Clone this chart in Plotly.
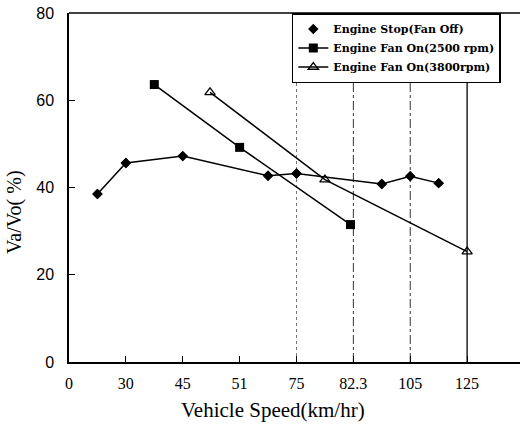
import plotly.graph_objects as go

# Tick labels of the (equally spaced) speed axis
speed_labels = ["0", "30", "45", "51", "75", "82.3", "105", "125"]
speed_pos = list(range(len(speed_labels)))

# Series (x in axis-slot units, y in %)
stop_x = [0.5, 1, 2, 3.5, 4, 5.5, 6, 6.5]
stop_y = [38.5, 45.6, 47.2, 42.7, 43.2, 40.8, 42.6, 41.0]

fan2500_x = [1.5, 3, 4.95]
fan2500_y = [63.6, 49.2, 31.5]

fan3800_x = [2.48, 4.5, 7]
fan3800_y = [61.8, 41.8, 25.3]

names = ["Engine Stop(Fan Off)", "Engine Fan On(2500 rpm)", "Engine Fan On(3800rpm)"]

# vertical reference lines at these speed labels
vline_labels = ["75", "82.3", "105", "125"]
vline_dash = ["dot", "dashdot", "dashdot", "solid"]
vline_color = ["#777777", "#333333", "#333333", "black"]

fig = go.Figure()

fig.add_trace(go.Scatter(x=stop_x, y=stop_y, mode="lines+markers", showlegend=False,
                         line=dict(color="black", width=1.5),
                         marker=dict(symbol="diamond", size=8, color="black")))
# marker-only legend entry for the first series (drawn on the same points)
fig.add_trace(go.Scatter(x=stop_x, y=stop_y, mode="markers", name=names[0],
                         marker=dict(symbol="diamond", size=8, color="black")))
fig.add_trace(go.Scatter(x=fan2500_x, y=fan2500_y, mode="lines+markers", name=names[1],
                         line=dict(color="black", width=1.5),
                         marker=dict(symbol="square", size=9, color="black")))
fig.add_trace(go.Scatter(x=fan3800_x, y=fan3800_y, mode="lines+markers", name=names[2],
                         line=dict(color="black", width=1.5),
                         marker=dict(symbol="triangle-up-open", size=9, color="black",
                                     line=dict(width=1.3, color="black"))))

for lab, dash, col in zip(vline_labels, vline_dash, vline_color):
    xi = speed_labels.index(lab)
    fig.add_shape(type="line", xref="x", yref="y", x0=xi, x1=xi, y0=0, y1=65,
                  line=dict(color=col, width=1 if dash != "solid" else 1.3, dash=dash),
                  layer="below")

fig.update_layout(
    width=520, height=430,
    margin=dict(l=69, r=0, t=13, b=68),
    paper_bgcolor="white", plot_bgcolor="white",
    showlegend=True,
    legend=dict(x=0.494, y=1, xanchor="left", yanchor="top",
                bgcolor="white", bordercolor="black", borderwidth=1.5,
                font=dict(family="DejaVu Serif", size=11, color="black", weight="bold"),
                itemwidth=30, tracegroupgap=0),
    xaxis=dict(range=[0, 7.93], tickmode="array", tickvals=speed_pos, ticktext=speed_labels,
               showgrid=False, zeroline=False, showline=True, linecolor="black", linewidth=1.5,
               ticks="inside", ticklen=6, tickcolor="black", automargin=False,
               ticklabelstandoff=6,
               tickfont=dict(family="Liberation Serif", size=16, color="black"),
               mirror=False),
    yaxis=dict(range=[0, 80], tickmode="array", tickvals=[0, 20, 40, 60, 80],
               showgrid=False, zeroline=False, showline=True, linecolor="black", linewidth=1.5,
               ticks="inside", ticklen=6, tickcolor="black", automargin=False,
               ticklabelstandoff=10, ticklabeloverflow="allow",
               tickfont=dict(family="Liberation Sans", size=16, color="black")),
    annotations=[
        dict(text="Va/Vo( %)", textangle=-90, xref="paper", yref="y",
             x=-54 / 451, y=34.4, xanchor="center", yanchor="middle",
             showarrow=False,
             font=dict(family="Liberation Serif", size=20, color="black")),
        dict(text="Vehicle Speed(km/hr)", xref="paper", yref="paper",
             x=0.452, y=-0.1375, xanchor="center", yanchor="middle",
             showarrow=False,
             font=dict(family="Liberation Serif", size=21, color="black")),
    ],
)
# top frame line
fig.add_shape(type="line", xref="paper", yref="paper", x0=0, x1=1, y0=1, y1=1,
              line=dict(color="black", width=1.5))

fig.write_html("out.html", config={"displayModeBar": False},
               post_script="document.body.style.margin='0px';")
